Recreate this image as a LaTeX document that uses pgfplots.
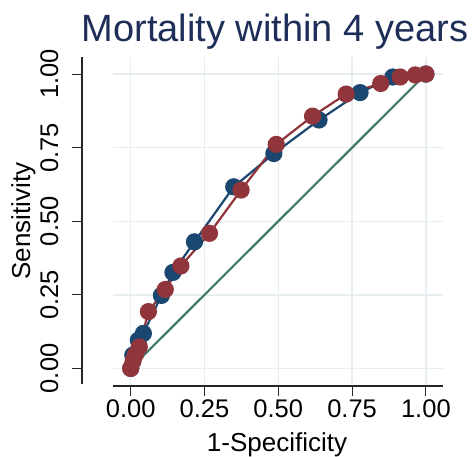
\documentclass[border=0pt]{standalone}
\usepackage{fontspec}
\setmainfont{Liberation Sans}
\usepackage{pgfplots}
\pgfplotsset{compat=1.18}
\definecolor{snavy}{RGB}{26,71,111}
\definecolor{smaroon}{RGB}{144,53,59}
\definecolor{sgreen}{RGB}{68,123,104}
\definecolor{stitle}{RGB}{30,46,88}
\definecolor{sgrid}{RGB}{230,238,241}
\begin{document}
\begin{tikzpicture}[x=1pt,y=1pt]
\useasboundingbox (0,0) rectangle (474,457);
\begin{axis}[
  at={(113pt,73pt)}, anchor=south west,
  scale only axis, width=330pt, height=327pt,
  xmin=-0.06, xmax=1.058, ymin=-0.053, ymax=1.058,
  axis x line*=bottom, axis y line*=left,
  axis y line shift=31pt, axis x line shift=2pt,
  axis line style={line width=1.1pt, black!85},
  tick align=outside, major tick length=10pt,
  tick style={line width=1.1pt, black!85},
  xtick={0,0.25,0.5,0.75,1}, ytick={0,0.25,0.5,0.75,1},
  xticklabels={0.00,0.25,0.50,0.75,1.00},
  yticklabels={0.00,0.25,0.50,0.75,1.00},
  grid=major, grid style={sgrid, line width=1.4pt},
  tick label style={font=\fontsize{25.5}{30}\selectfont},
  yticklabel style={rotate=90, anchor=south},
  yticklabel shift=10pt,
  xticklabel style={anchor=north},
  /pgf/number format/assume math mode=true,
]
\addplot[snavy, line width=2.2pt, mark=*, mark size=7.5pt, mark options={solid, fill=snavy, draw=snavy}] coordinates {
(0,0) (0.007,0.045) (0.026,0.096) (0.043,0.119) (0.104,0.248) (0.143,0.326) (0.216,0.430) (0.349,0.617) (0.485,0.730) (0.638,0.844) (0.777,0.937) (0.888,0.990) (1,1)};
\addplot[smaroon, line width=2.2pt, mark=*, mark size=7.5pt, mark options={solid, fill=smaroon, draw=smaroon}] coordinates {
(0,0) (0.008,0.025) (0.016,0.047) (0.029,0.073) (0.060,0.193) (0.117,0.268) (0.170,0.348) (0.267,0.459) (0.374,0.606) (0.493,0.761) (0.616,0.857) (0.730,0.932) (0.847,0.968) (0.913,0.990) (0.964,0.997) (1,1)};
\addplot[sgreen, line width=2.2pt, no marks] coordinates {(0,0) (1,1)};
\end{axis}
\node[font=\fontsize{38}{45}\selectfont, text=stitle, anchor=base] at (275,415.5) {Mortality within 4 years};
\node[font=\fontsize{26}{31}\selectfont, anchor=base] at (277,5) {1-Specificity};
\node[font=\fontsize{26}{31}\selectfont, rotate=90, anchor=base] at (30,236) {Sensitivity};
\end{tikzpicture}
\end{document}
